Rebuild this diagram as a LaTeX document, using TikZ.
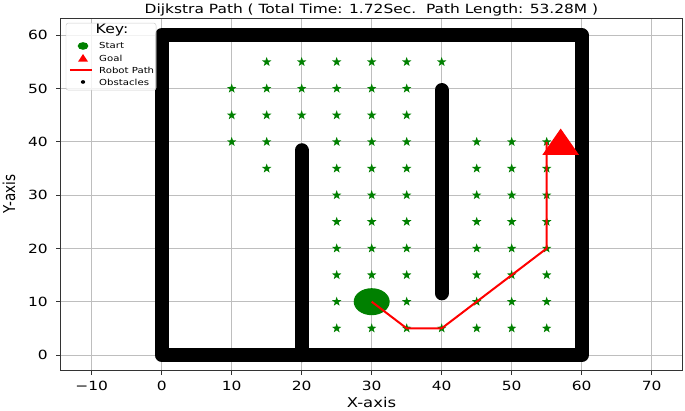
\documentclass[tikz,border=0pt]{standalone}
\usepackage{fontspec}
\setmainfont{DejaVu Sans}
\usepackage{graphicx}
\usetikzlibrary{shapes.geometric}

\definecolor{plotgreen}{RGB}{0,128,0}
\definecolor{gridgray}{RGB}{190,190,190}
\newcommand{\wide}[1]{\scalebox{1.22}[1]{#1}}

\begin{document}
\begin{tikzpicture}[
    x=0.21cm, y=0.15984cm,
    font=\fontsize{10.8}{12}\selectfont,
    gridline/.style={draw=gridgray, line width=0.8pt},
    frame/.style={draw=black!80, line width=0.8pt},
    wall/.style={draw=black, line width=0.43cm, line cap=round, line join=round},
    visited/.style={star, star points=5, star point ratio=2.5, fill=plotgreen, inner sep=0pt, minimum size=0.3cm},
    ticklbl/.style={inner sep=0pt},
    keytext/.style={font=\fontsize{7.1}{8}\selectfont, anchor=west, inner sep=0pt},
    robotpath/.style={draw=red, line width=0.06cm, line join=round}
]

% CANVAS (same margins as the plot image)
\useasboundingbox (-23.1,-10.51) rectangle (74.76,66.63);

% GRID
\foreach \gx in {-10,0,...,70}
    \draw[gridline] (\gx,-2.82) -- (\gx,63.25);
\foreach \gy in {0,10,...,60}
    \draw[gridline] (-14.39,\gy) -- (74.33,\gy);

% AXES FRAME AND TICKS
\draw[frame] (-14.39,-2.82) rectangle (74.33,63.25);
\foreach \gx/\lbl in {-10/{−10},0/0,10/10,20/20,30/30,40/40,50/50,60/60,70/70} {
    \draw[frame] (\gx,-2.82) -- ++(0,-0.15cm);
    \node[ticklbl] (xt\gx) at (\gx,-5.82) {\wide{\lbl}};
}
\foreach \gy in {0,10,...,60} {
    \draw[frame] (-14.39,\gy) -- ++(-0.15cm,0);
    \node[ticklbl, anchor=east] (yt\gy) at (-16.24,\gy) {\wide{\gy}};
}

% TITLE AND AXIS LABELS
\node (title) at (29.97,64.8) {\wide{Dijkstra Path ( Total Time: 1.72Sec.\ \ Path Length: 53.28M )}};
\node[font=\fontsize{11.5}{12}\selectfont] (xlabel) at (29.97,-9.0) {\wide{X-axis}};
\node[font=\fontsize{11.5}{12}\selectfont, rotate=90] (ylabel) at (-21.8,30.2) {\scalebox{1}[1.22]{Y-axis}};

% OBSTACLES
\draw[wall] (0,0) rectangle (60,60);
\draw[wall] (20,0) -- (20,38.4);
\draw[wall] (40,11.6) -- (40,49.7);

% VISITED NODES
\foreach \sx in {15,20,...,40}
    \node[visited] (v\sx-55) at (\sx,55) {};
\foreach \sy in {45,50}
    \foreach \sx in {10,15,...,35}
        \node[visited] (v\sx-\sy) at (\sx,\sy) {};
\foreach \sx in {10,15,25,30,35,45,50,55}
    \node[visited] (v\sx-40) at (\sx,40) {};
\foreach \sx in {15,25,30,35,45,50,55}
    \node[visited] (v\sx-35) at (\sx,35) {};
\foreach \sy in {15,20,25,30}
    \foreach \sx in {25,30,35,45,50,55}
        \node[visited] (v\sx-\sy) at (\sx,\sy) {};
\foreach \sx in {25,35,45,50,55}
    \node[visited] (v\sx-10) at (\sx,10) {};
\foreach \sx in {25,30,...,55}
    \node[visited] (v\sx-5) at (\sx,5) {};

% START
\node[ellipse, fill=plotgreen, minimum width=1.08cm, minimum height=0.81cm, inner sep=0pt] (start) at (30,10) {};

% ROBOT PATH
\coordinate (w1) at (35,5);
\coordinate (w2) at (40,5);
\coordinate (w3) at (55,20);
\coordinate (w4) at (55,40);
\draw[robotpath] (start.center) -- (w1) -- (w2) -- (w3) -- (w4);

% GOAL
\coordinate (goal) at (57,40);
\fill[red] ([yshift=0.4cm]goal) -- ([shift={(0.55cm,-0.39cm)}]goal) -- ([shift={(-0.55cm,-0.39cm)}]goal) -- cycle;

% KEY
\filldraw[draw=black!20, fill=white, fill opacity=0.8, draw opacity=1, rounded corners=2pt] (-13.67,49.7) rectangle (-0.81,62.3);
\node[font=\fontsize{11}{12}\selectfont, inner sep=0pt] (keytitle) at (-7.09,61.0) {\wide{Key:}};
\node[ellipse, fill=plotgreen, minimum width=0.32cm, minimum height=0.23cm, inner sep=0pt] (keystart) at (-11.24,58.0) {};
\node[keytext] (keystartlbl) at (-8.96,58.0) {\wide{Start}};
\coordinate (keygoal) at (-11.24,55.74);
\fill[red] ([yshift=0.12cm]keygoal) -- ([shift={(0.15cm,-0.11cm)}]keygoal) -- ([shift={(-0.15cm,-0.11cm)}]keygoal) -- cycle;
\node[keytext] (keygoallbl) at (-8.96,55.74) {\wide{Goal}};
\coordinate (keypatha) at (-13.1,53.49);
\coordinate (keypathb) at (-9.96,53.49);
\draw[robotpath] (keypatha) -- (keypathb);
\node[keytext] (keypathlbl) at (-8.96,53.49) {\wide{Robot Path}};
\node[ellipse, fill=black, minimum width=0.13cm, minimum height=0.11cm, inner sep=0pt] (keyobst) at (-11.24,51.24) {};
\node[keytext] (keyobstlbl) at (-8.96,51.24) {\wide{Obstacles}};

\end{tikzpicture}
\end{document}
